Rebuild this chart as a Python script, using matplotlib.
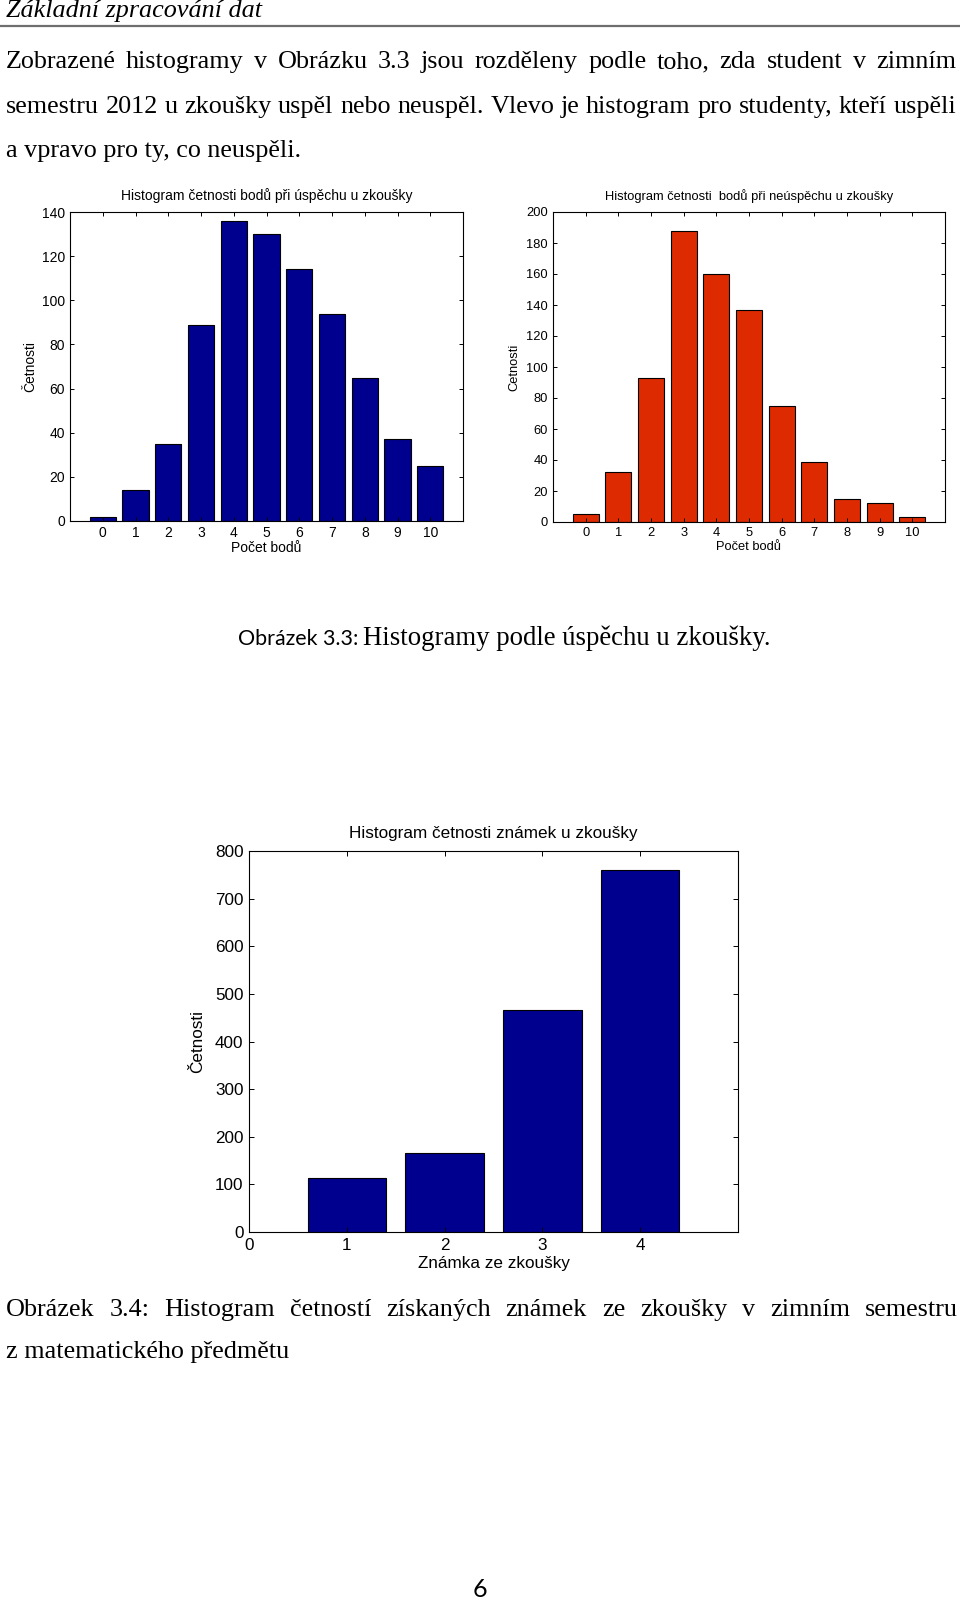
import matplotlib
matplotlib.use("Agg")
import matplotlib.pyplot as plt
from matplotlib.lines import Line2D

# ---- data ----
points = [0, 1, 2, 3, 4, 5, 6, 7, 8, 9, 10]
passed = [2, 14, 35, 89, 136, 130, 114, 94, 65, 37, 25]    # uspěli
failed = [5, 32, 93, 188, 160, 137, 75, 39, 15, 12, 3]     # neuspěli
grades = [1, 2, 3, 4]
grade_counts = [114, 165, 466, 760]

header = "Základní zpracování dat"
par_line1 = "Zobrazené histogramy v Obrázku 3.3 jsou rozděleny podle toho, zda student v zimním"
par_line2 = "semestru 2012 u zkoušky uspěl nebo neuspěl. Vlevo je histogram pro studenty, kteří uspěli"
par_line3 = "a vpravo pro ty, co neuspěli."
cap33_label = "Obrázek 3.3:"
cap33_text = "Histogramy podle úspěchu u zkoušky."
cap34_line1 = "Obrázek 3.4: Histogram četností získaných známek ze zkoušky v zimním semestru"
cap34_line2 = "z matematického předmětu"
page_no = "6"

W, H = 960, 1600
BLUE = "#00008f"
RED = "#dd2a00"
SERIF = "Liberation Serif"
SANS = "Liberation Sans"
BODY = 18.8

fig = plt.figure(figsize=(W / 100, H / 100), dpi=100)
fig.patch.set_facecolor("white")
r = fig.canvas.get_renderer()


def fx(x):
    return x / W


def fy(y):
    return 1 - y / H


def line(text, x0, y, x1=None, **kw):
    # x1 given -> justify words between x0 and x1
    kw.setdefault("family", SERIF)
    kw.setdefault("fontsize", BODY)
    if x1 is None:
        return fig.text(fx(x0), fy(y), text, va="baseline", ha="left", **kw)
    words = text.split()
    ts = [fig.text(0, fy(y), w, va="baseline", ha="left", **kw) for w in words]
    ws = [t.get_window_extent(r).width for t in ts]
    gap = (x1 - x0 - sum(ws)) / (len(words) - 1)
    x = x0
    for t, w in zip(ts, ws):
        t.set_x(fx(x))
        x += w + gap


# header + rule
line(header, 6, 17.5, style="italic")
fig.add_artist(Line2D([0, 1], [fy(25.5), fy(25.5)], transform=fig.transFigure,
                      color="#6e6e6e", lw=1.6))

# paragraph
line(par_line1, 6, 68, 956)
line(par_line2, 6, 113, 956)
line(par_line3, 6, 157)

# caption 3.3 (label in sans, rest in serif)
lab = line(cap33_label, 238, 645, family="Lato", fontsize=18)
lab.set_fontsize(18 * 120 / lab.get_window_extent(r).width)
line(cap33_text, 363, 645, fontsize=19.3)

# caption 3.4
line(cap34_line1, 6, 1316, 958)
line(cap34_line2, 6, 1358)

fig.text(fx(480), fy(1597), page_no, ha="center", va="baseline", family="Lato", fontsize=18)


def style_axes(ax, fs, ticklen, pad):
    ax.tick_params(direction="in", top=True, right=True, length=ticklen, width=0.7,
                   labelsize=fs, pad=pad, colors="black")
    for s in ax.spines.values():
        s.set_linewidth(0.8)
    for lbl in ax.get_xticklabels() + ax.get_yticklabels():
        lbl.set_family(SANS)


def hist_axes(rect, x, y, color, title, ylabel, xlabel, ylim, yticks, fs, ylab_x, xlab_y, tpad):
    ax = fig.add_axes(rect)
    ax.bar(x, y, width=0.8, color=color, edgecolor="black", linewidth=0.8)
    ax.set_ylim(*ylim)
    ax.set_yticks(yticks)
    ax.set_title(title, family=SANS, fontsize=fs, pad=tpad)
    ax.set_ylabel(ylabel, family=SANS, fontsize=fs)
    ax.set_xlabel(xlabel, family=SANS, fontsize=fs, va="top")
    ax.yaxis.set_label_coords(ylab_x, 0.5)
    ax.xaxis.set_label_coords(0.5, xlab_y)
    return ax


# left: passed
ax1 = hist_axes([70 / W, 1 - 521 / H, 393 / W, 309 / H], points, passed, BLUE,
                "Histogram četnosti bodů při úspěchu u zkoušky", "Četnosti", "Počet bodů",
                (0, 140), range(0, 141, 20), 10.0, -0.084, -0.066, 8.6)
ax1.set_xlim(-1, 11)
ax1.set_xticks(points)
style_axes(ax1, 10.0, 3, 3.6)

# right: failed
ax2 = hist_axes([553 / W, 1 - 522 / H, 392 / W, 310 / H], points, failed, RED,
                "Histogram četnosti  bodů při neúspěchu u zkoušky", "Cetnosti", "Počet bodů",
                (0, 200), range(0, 201, 20), 9.3, -0.082, -0.062, 8.6)
ax2.set_xlim(-1, 11)
ax2.set_xticks(points)
style_axes(ax2, 9.3, 3, 3.6)

# bottom: grades
ax3 = hist_axes([249 / W, 1 - 1232 / H, 489 / W, 381 / H], grades, grade_counts, BLUE,
                "Histogram četnosti známek u zkoušky", "Četnosti", "Známka ze zkoušky",
                (0, 800), range(0, 801, 100), 12.3, -0.09, -0.064, 9.4)
ax3.set_xlim(0, 5)
ax3.set_xticks([0, 1, 2, 3, 4])
style_axes(ax3, 12.3, 3.6, 4)

fig.savefig("out.png", dpi=100, facecolor="white")
